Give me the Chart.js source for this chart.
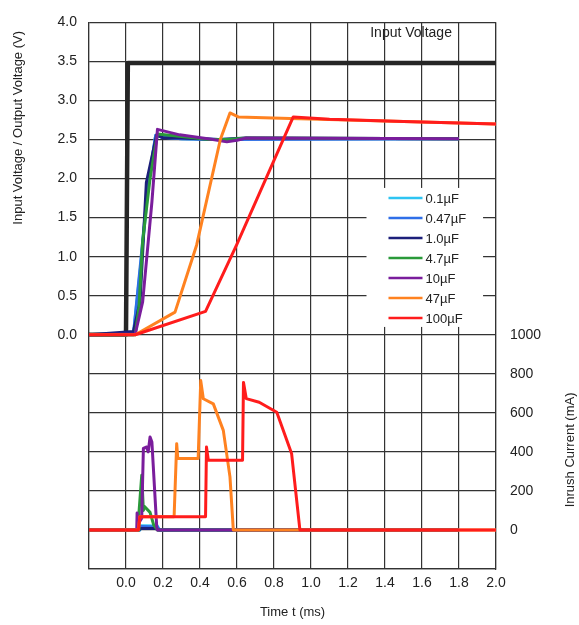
<!DOCTYPE html>
<html>
<head>
<meta charset="utf-8">
<script src="https://cdn.jsdelivr.net/npm/chart.js@4.4.1/dist/chart.umd.min.js"></script>
<style>
  body { margin: 0; background: #fff; }
</style>
</head>
<body>
<canvas id="chart" width="579" height="625"></canvas>
<script>
/* ---------- data: [time ms, value] ---------- */
const capLabels = ["0.1µF", "0.47µF", "1.0µF", "4.7µF", "10µF", "47µF", "100µF"];
const capColors = ["#2ec4f2", "#2f6fe8", "#1c1f7a", "#2a9a3a", "#7a1d9c", "#ff8220", "#ff1c1c"];

const inputVoltage = [[-0.2, 0], [0.0, 0], [0.01, 3.48], [2.0, 3.48]];

// output voltage (V)
const vout01 = [[-0.2, 0], [0.04, 0], [0.08, 0.9], [0.12, 1.9], [0.16, 2.55], [0.2, 2.53], [0.3, 2.51], [0.5, 2.5], [0.65, 2.51], [1.8, 2.51]];
const vout047 = [[-0.2, 0], [0.04, 0], [0.08, 0.95], [0.12, 1.95], [0.16, 2.55], [0.2, 2.53], [0.3, 2.51], [0.5, 2.5], [1.8, 2.51]];
const vout1 = [[-0.2, 0], [0.04, 0.04], [0.076, 0.42], [0.11, 1.95], [0.166, 2.56], [0.2, 2.52], [0.3, 2.52], [0.5, 2.5], [0.65, 2.52], [1.8, 2.51]];
const vout47 = [[-0.2, 0], [0.05, 0], [0.07, 0.35], [0.09, 1.2], [0.13, 2.0], [0.17, 2.57], [0.3, 2.54], [0.45, 2.5], [0.55, 2.5], [0.65, 2.52], [1.8, 2.51]];
const vout10 = [[-0.2, 0], [0.05, 0.01], [0.09, 0.42], [0.14, 1.7], [0.17, 2.63], [0.29, 2.56], [0.47, 2.5], [0.545, 2.47], [0.6, 2.49], [0.65, 2.52], [1.8, 2.51]];
const vout470 = [[-0.2, 0], [0.05, 0], [0.265, 0.29], [0.382, 1.15], [0.51, 2.5], [0.562, 2.84], [0.607, 2.79], [0.886, 2.77], [1.2, 2.75], [2.0, 2.7]];
const vout100 = [[-0.2, 0], [0.05, 0], [0.43, 0.3], [0.598, 1.15], [0.904, 2.79], [1.1, 2.76], [1.5, 2.73], [2.0, 2.7]];

// inrush current (mA)
const iin01 = [[-0.2, 0], [0.075, 0], [0.08, 22], [0.17, 20], [0.18, 0], [1.8, 0]];
const iin047 = [[-0.2, 0], [0.075, 0], [0.08, 18], [0.17, 15], [0.18, 0], [1.8, 0]];
const iin1 = [[-0.2, 0], [0.07, 0], [0.08, 8], [0.16, 8], [0.17, 0], [1.8, 0]];
const iin47 = [[-0.2, 0], [0.065, 0], [0.07, 87], [0.085, 280], [0.094, 100], [0.1, 120], [0.13, 90], [0.15, 25], [0.17, 0], [1.8, 0]];
const iin10 = [[-0.2, 0], [0.058, 0], [0.06, 87], [0.065, 30], [0.085, 60], [0.094, 418], [0.112, 425], [0.12, 400], [0.13, 476], [0.14, 450], [0.166, 17], [0.17, 0], [1.8, 0]];
const iin470 = [[-0.2, 0], [0.067, 0], [0.075, 68], [0.26, 68], [0.274, 442], [0.28, 366], [0.39, 366], [0.404, 765], [0.418, 672], [0.472, 646], [0.526, 510], [0.562, 272], [0.58, 0], [2.0, 0]];
const iin100 = [[-0.2, 0], [0.067, 0], [0.075, 68], [0.43, 68], [0.435, 425], [0.445, 357], [0.63, 357], [0.635, 756], [0.65, 673], [0.72, 654], [0.815, 603], [0.895, 392], [0.94, 0], [2.0, 0]];

const voltageSeries = [vout01, vout047, vout1, vout47, vout10, vout470, vout100];
const currentSeries = [iin01, iin047, iin1, iin47, iin10, iin470, iin100];

const toPoints = (arr) => arr.map(p => ({ x: p[0], y: p[1] }));

/* ---------- datasets ---------- */
const datasets = [{
  label: "Input Voltage",
  data: toPoints(inputVoltage),
  borderColor: "#262626",
  borderWidth: 4.5,
  yAxisID: "y",
  order: 20,
}];
capLabels.forEach((name, i) => {
  datasets.push({
    label: name,
    data: toPoints(voltageSeries[i]),
    borderColor: capColors[i],
    borderWidth: 3,
    yAxisID: "y",
    order: 6 - i,
  });
  datasets.push({
    label: name + " current",
    data: toPoints(currentSeries[i]),
    borderColor: capColors[i],
    borderWidth: 3,
    yAxisID: "y2",
    order: 6 - i,
  });
});

/* ---------- extra text + legend inside the plot ---------- */
const extrasPlugin = {
  id: "extras",
  afterDraw(chart) {
    const { ctx, chartArea, scales } = chart;
    const xs = scales.x, ys = scales.y, ys2 = scales.y2;
    ctx.save();
    ctx.fillStyle = "#222";
    ctx.font = "13px 'Liberation Sans', Arial, sans-serif";
    ctx.textBaseline = "middle";

    // axis titles
    ctx.textAlign = "center";
    ctx.save();
    ctx.translate(18, ys.getPixelForValue(2.65));
    ctx.rotate(-Math.PI / 2);
    ctx.fillText("Input Voltage / Output Voltage (V)", 0, 0);
    ctx.restore();

    ctx.save();
    ctx.translate(570, ys2.getPixelForValue(410));
    ctx.rotate(-Math.PI / 2);
    ctx.fillText("Inrush Current (mA)", 0, 0);
    ctx.restore();

    ctx.fillText("Time t (ms)", (chartArea.left + chartArea.right) / 2, 612);

    // "Input Voltage" note
    ctx.font = "14px 'Liberation Sans', Arial, sans-serif";
    ctx.textAlign = "left";
    ctx.fillText("Input Voltage", xs.getPixelForValue(1.32), ys.getPixelForValue(3.86));

    // legend box
    const bx = xs.getPixelForValue(1.3);
    const bx2 = xs.getPixelForValue(1.93);
    const by = ys.getPixelForValue(1.88);
    const by2 = ys.getPixelForValue(0.1);
    ctx.fillStyle = "#fff";
    ctx.fillRect(bx, by, bx2 - bx, by2 - by);
    ctx.font = "13px 'Liberation Sans', Arial, sans-serif";
    capLabels.forEach((name, i) => {
      const ry = by + 10 + i * 20;
      ctx.strokeStyle = capColors[i];
      ctx.lineWidth = 2.5;
      ctx.beginPath();
      ctx.moveTo(bx + 22, ry);
      ctx.lineTo(bx + 56, ry);
      ctx.stroke();
      ctx.fillStyle = "#222";
      ctx.fillText(name, bx + 59, ry + 1);
    });
    ctx.restore();
  },
};

Chart.defaults.font.family = "'Liberation Sans', Arial, sans-serif";
Chart.defaults.font.size = 14;
Chart.defaults.color = "#222";

new Chart(document.getElementById("chart"), {
  type: "line",
  data: { datasets },
  plugins: [extrasPlugin],
  options: {
    responsive: false,
    animation: false,
    layout: { padding: { top: 20, left: 0, right: 0, bottom: 0 } },
    elements: {
      point: { radius: 0 },
      line: { tension: 0, borderCapStyle: "butt", borderJoinStyle: "round" },
    },
    plugins: { legend: { display: false }, tooltip: { enabled: false } },
    scales: {
      x: {
        type: "linear",
        min: -0.2,
        max: 2.0,
        afterFit: (s) => { s.height = 56; },
        ticks: {
          stepSize: 0.2,
          padding: 6,
          maxRotation: 0,
          callback: (v) => (v < -0.01 ? "" : (Math.abs(v) < 1e-9 ? 0 : v).toFixed(1)),
        },
        grid: { color: "#333", lineWidth: 1.2, drawTicks: false },
        border: { color: "#333", width: 1.2 },
      },
      y: {
        position: "left",
        min: -3,
        max: 4,
        afterFit: (s) => { s.width = 89; },
        ticks: {
          stepSize: 0.5,
          padding: 12,
          callback: (v) => (v < -0.01 ? "" : (Math.abs(v) < 1e-9 ? 0 : v).toFixed(1)),
        },
        grid: { color: "#333", lineWidth: 1.2, drawTicks: false },
        border: { color: "#333", width: 1.2 },
      },
      y2: {
        position: "right",
        min: -200,
        max: 2600,
        afterFit: (s) => { s.width = 83; },
        ticks: {
          stepSize: 200,
          padding: 14,
          callback: (v) => (v < 0 || v > 1000 ? "" : v),
        },
        grid: { display: false, drawTicks: false },
        border: { color: "#333", width: 1.2 },
      },
    },
  },
});
</script>
</body>
</html>
